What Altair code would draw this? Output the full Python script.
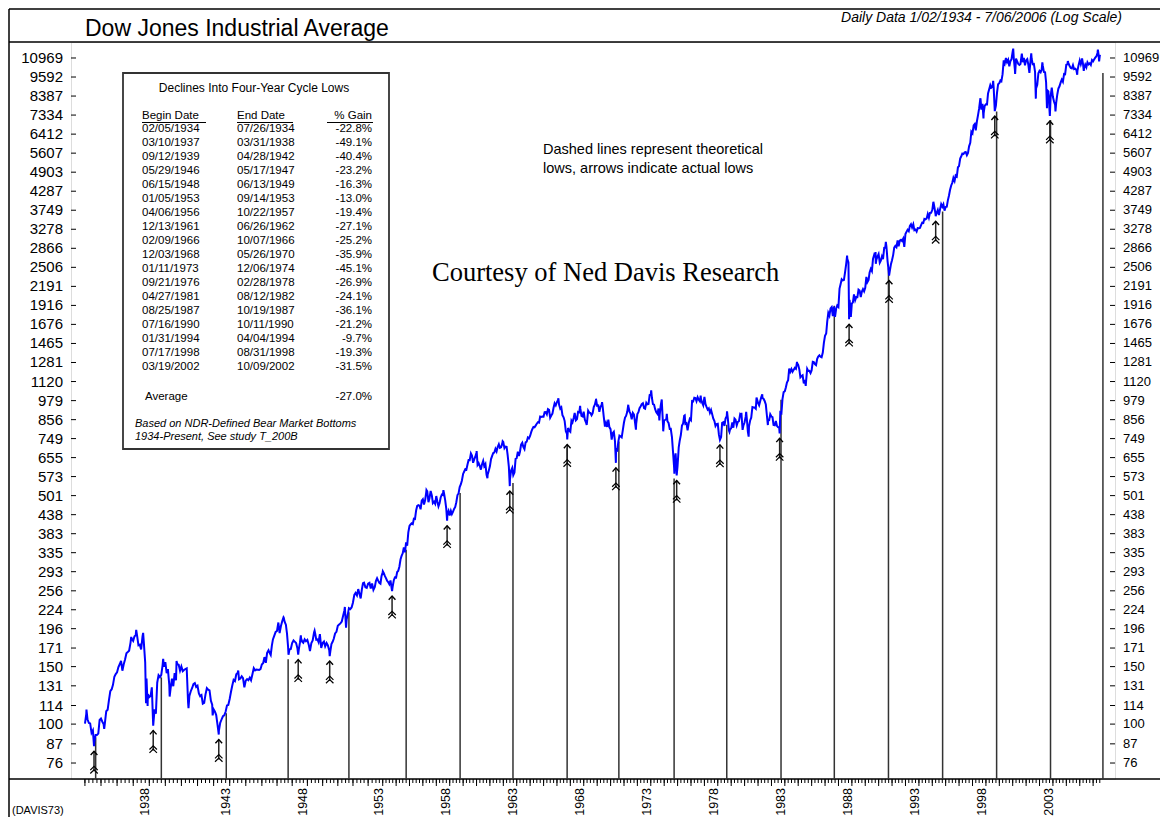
import altair as alt
import numpy as np
import pandas as pd

# ---------------------------------------------------------------- texts
TITLE = "Dow Jones Industrial Average"
SUBTITLE = "Daily Data 1/02/1934 - 7/06/2006 (Log Scale)"
NOTE_LINES = ["Dashed lines represent theoretical", "lows, arrows indicate actual lows"]
COURTESY = "Courtesy of Ned Davis Research"
SOURCE_CODE = "(DAVIS73)"

# ---------------------------------------------------------------- axis ticks
Y_TICKS = [76, 87, 100, 114, 131, 150, 171, 196, 224, 256, 293, 335, 383, 438,
           501, 573, 655, 749, 856, 979, 1120, 1281, 1465, 1676, 1916, 2191,
           2506, 2866, 3278, 3749, 4287, 4903, 5607, 6412, 7334, 8387, 9592, 10969]
X_LABEL_YEARS = [1938, 1943, 1948, 1953, 1958, 1963, 1968, 1973, 1978, 1983,
                 1988, 1993, 1998, 2003]

# ---------------------------------------------------------------- DJIA month-end closes
djia_1930s = [
    107.2, 103.5, 100.8, 100.5, 94.0, 95.7, 88.0, 92.6, 92.6, 93.5, 103.0, 104.0,
    101.7, 100.1, 100.8, 109.5, 110.6, 118.2, 126.2, 127.9, 131.9, 139.7, 142.3, 144.1,
    149.5, 152.5, 156.3, 145.7, 152.6, 157.7, 164.9, 166.3, 167.8, 177.4, 182.5, 179.9,
    185.7, 187.2, 186.4, 174.3, 175.1, 169.3, 185.5, 177.4, 154.6, 138.0, 123.5, 121.0,
    121.9, 129.6, 99.0, 111.0, 107.7, 133.9, 141.2, 139.3, 141.5, 151.7, 149.8, 154.8,
    143.3, 147.3, 131.8, 128.4, 137.7, 130.6, 143.3, 136.2, 152.5, 151.9, 145.7, 150.2,
]
djia_1940s = [
    145.3, 146.5, 147.5, 148.2, 116.2, 121.9, 126.1, 129.0, 132.6, 133.6, 130.0, 131.1,
    124.1, 121.8, 122.7, 115.5, 116.2, 123.1, 128.8, 127.4, 126.8, 117.8, 114.7, 111.0,
    109.1, 106.6, 99.5, 95.4, 100.9, 103.3, 105.7, 106.3, 109.1, 114.1, 114.5, 119.4,
    125.6, 131.0, 136.6, 135.5, 142.1, 143.4, 137.2, 138.0, 140.1, 138.3, 129.6, 135.9,
    137.4, 136.3, 138.8, 136.2, 142.2, 148.4, 146.1, 146.9, 146.7, 146.5, 147.3, 152.3,
    153.8, 160.4, 154.1, 165.4, 168.3, 165.3, 162.9, 174.3, 181.7, 186.6, 191.5, 192.9,
    204.7, 190.1, 199.8, 206.8, 212.3, 205.6, 201.6, 189.2, 172.4, 169.2, 169.8, 177.2,
    180.4, 178.9, 177.2, 170.6, 169.3, 177.3, 183.2, 178.9, 177.5, 181.8, 179.4, 181.2,
    175.1, 167.3, 177.2, 180.5, 190.7, 189.5, 181.3, 181.7, 178.3, 188.6, 171.2, 177.3,
    179.1, 173.1, 177.1, 174.2, 168.4, 167.4, 175.9, 178.7, 182.5, 189.5, 191.6, 200.1,
]
djia_1950s = [
    201.8, 203.4, 206.1, 214.3, 223.4, 209.1, 209.4, 216.9, 226.4, 225.0, 227.6, 235.4,
    248.8, 252.1, 247.9, 259.1, 249.7, 242.6, 257.9, 270.3, 271.2, 262.4, 261.3, 269.2,
    270.7, 260.1, 269.5, 257.6, 262.9, 274.3, 279.6, 275.0, 271.0, 269.2, 283.7, 291.9,
    290.0, 284.3, 279.9, 274.8, 272.3, 268.3, 275.4, 261.2, 264.0, 276.0, 281.4, 280.9,
    292.4, 294.5, 303.5, 319.3, 327.5, 333.5, 347.9, 335.8, 360.5, 352.1, 386.8, 404.4,
    408.8, 411.9, 409.7, 425.7, 424.9, 451.4, 465.9, 468.2, 466.6, 454.9, 483.3, 488.4,
    470.7, 483.7, 511.8, 516.1, 478.1, 492.8, 517.8, 502.0, 475.3, 479.9, 472.8, 499.5,
    479.2, 464.6, 474.8, 494.4, 505.0, 503.3, 508.5, 484.4, 456.3, 441.0, 449.9, 435.7,
    450.0, 439.9, 446.8, 455.9, 462.7, 478.2, 503.0, 508.6, 532.1, 543.2, 557.5, 583.7,
    594.0, 603.5, 601.7, 623.8, 643.8, 643.6, 674.9, 664.4, 631.7, 646.6, 659.2, 679.4,
]
djia_1960s = [
    622.6, 630.1, 616.6, 601.7, 625.5, 640.6, 616.7, 626.0, 580.1, 580.4, 597.2, 615.9,
    648.2, 662.1, 676.6, 678.7, 696.7, 684.0, 705.4, 719.9, 701.2, 703.9, 721.6, 731.1,
    700.0, 708.1, 707.0, 665.3, 613.4, 561.3, 597.9, 609.2, 579.0, 589.8, 649.3, 652.1,
    682.9, 662.9, 682.5, 717.7, 727.0, 706.9, 695.4, 729.3, 732.8, 755.2, 750.5, 763.0,
    785.3, 800.1, 813.3, 810.8, 820.6, 831.5, 841.1, 838.5, 875.4, 873.1, 875.4, 874.1,
    902.9, 903.5, 889.1, 922.3, 918.0, 868.0, 881.7, 893.1, 930.6, 960.8, 946.7, 969.3,
    983.5, 951.9, 924.8, 933.7, 884.1, 870.1, 847.4, 788.4, 774.2, 807.1, 791.6, 785.7,
    849.9, 839.4, 866.0, 897.1, 852.6, 860.3, 904.2, 901.3, 926.7, 879.7, 875.8, 905.1,
    855.5, 840.5, 840.7, 912.2, 899.0, 897.8, 883.0, 896.0, 935.8, 952.4, 985.1, 943.8,
    946.1, 905.2, 935.5, 950.2, 937.6, 873.2, 815.5, 836.7, 813.1, 856.0, 812.3, 800.4,
]
djia_1970s = [
    744.1, 777.6, 785.6, 736.1, 700.4, 683.5, 734.1, 764.6, 760.7, 755.6, 794.1, 838.9,
    868.5, 878.8, 904.4, 941.8, 907.8, 891.1, 858.4, 898.1, 887.2, 839.0, 831.3, 890.2,
    902.2, 928.1, 940.7, 954.2, 960.7, 929.0, 924.7, 963.7, 953.3, 955.5, 1018.2, 1020.0,
    999.0, 955.1, 951.0, 921.4, 901.4, 891.7, 926.4, 887.6, 947.1, 956.6, 822.3, 850.9,
    855.6, 860.5, 846.7, 836.8, 802.2, 802.4, 757.4, 678.6, 607.9, 665.5, 618.7, 616.2,
    703.7, 739.1, 768.2, 821.3, 832.3, 879.0, 831.5, 835.3, 793.9, 836.0, 860.7, 852.4,
    975.3, 972.6, 999.5, 996.9, 975.2, 1002.8, 984.6, 973.7, 990.2, 964.9, 947.2, 1004.7,
    954.4, 936.4, 919.1, 926.9, 898.7, 916.3, 890.1, 861.5, 847.1, 818.4, 829.7, 831.2,
    769.9, 742.1, 757.4, 837.3, 840.6, 819.0, 862.3, 876.8, 865.8, 792.5, 799.0, 805.0,
    839.2, 808.8, 862.2, 854.9, 822.3, 842.0, 846.4, 887.6, 878.6, 815.7, 822.4, 838.7,
]
djia_1980s = [
    875.9, 863.1, 785.8, 817.1, 850.9, 867.9, 935.3, 932.6, 932.4, 924.5, 993.3, 964.0,
    947.3, 974.6, 1003.9, 997.8, 991.8, 976.9, 952.3, 881.5, 850.0, 852.6, 889.0, 875.0,
    871.1, 824.4, 822.8, 848.4, 819.5, 811.9, 808.6, 901.3, 896.3, 991.7, 1039.3, 1046.5,
    1075.7, 1112.6, 1130.0, 1226.2, 1200.0, 1222.0, 1199.2, 1216.2, 1233.1, 1225.2, 1276.0, 1258.6,
    1220.6, 1154.6, 1164.9, 1170.8, 1104.9, 1132.4, 1115.3, 1224.4, 1206.7, 1207.4, 1188.9, 1211.6,
    1286.8, 1284.0, 1266.8, 1258.1, 1315.4, 1335.5, 1347.5, 1334.0, 1328.6, 1374.3, 1472.1, 1546.7,
    1571.0, 1709.1, 1818.6, 1784.0, 1876.7, 1892.7, 1775.3, 1898.3, 1767.6, 1877.8, 1914.2, 1896.0,
    2158.0, 2224.0, 2304.7, 2286.4, 2291.6, 2418.5, 2572.1, 2663.0, 2596.3, 1993.5, 1833.6, 1938.8,
    1958.2, 2071.6, 1988.1, 2032.3, 2031.1, 2141.7, 2128.7, 2031.7, 2112.9, 2148.7, 2114.5, 2168.6,
    2342.3, 2258.4, 2293.6, 2418.8, 2480.2, 2440.1, 2660.7, 2737.3, 2692.8, 2645.1, 2706.3, 2753.2,
]
djia_1990s = [
    2590.5, 2627.3, 2707.2, 2656.8, 2876.7, 2880.7, 2905.2, 2614.4, 2452.5, 2442.3, 2559.7, 2633.7,
    2736.4, 2882.2, 2913.9, 2887.9, 3027.5, 2906.8, 3024.8, 3043.6, 3016.8, 3069.1, 2894.7, 3168.8,
    3223.4, 3267.7, 3235.5, 3359.1, 3396.9, 3318.5, 3393.8, 3257.4, 3271.7, 3226.3, 3305.2, 3301.1,
    3310.0, 3370.8, 3435.1, 3427.6, 3527.4, 3516.1, 3539.5, 3651.3, 3555.1, 3680.6, 3684.0, 3754.1,
    3978.4, 3832.0, 3636.0, 3681.7, 3758.4, 3625.0, 3764.5, 3913.4, 3843.2, 3908.1, 3739.2, 3834.4,
    3843.9, 4011.1, 4157.7, 4321.3, 4465.1, 4556.1, 4708.5, 4610.6, 4789.1, 4755.5, 5074.5, 5117.1,
    5395.3, 5485.6, 5587.1, 5569.1, 5643.2, 5654.6, 5528.9, 5616.2, 5882.2, 6029.4, 6521.7, 6448.3,
    6813.1, 6877.7, 6583.5, 7009.0, 7331.0, 7672.8, 8222.6, 7622.4, 7945.3, 7442.1, 7823.1, 7908.3,
    7906.5, 8545.7, 8799.8, 9063.4, 8900.0, 8952.0, 8883.3, 7539.1, 7842.6, 8592.1, 9116.6, 9181.4,
    9358.8, 9306.6, 9786.2, 10789.0, 10559.7, 10970.8, 10655.2, 10829.3, 10337.0, 10729.9, 10877.8, 11497.1,
]
djia_2000s = [
    10940.5, 10128.3, 10921.9, 10733.9, 10522.3, 10447.9, 10522.0, 11215.1, 10650.9, 10971.1, 10414.5, 10788.0,
    10887.4, 10495.3, 9878.8, 10735.0, 10911.9, 10502.4, 10522.8, 9949.8, 8847.6, 9075.1, 9851.6, 10021.5,
    9920.0, 10106.1, 10403.9, 9946.2, 9925.3, 9243.3, 8736.6, 8663.5, 7591.9, 8397.0, 8896.1, 8341.6,
    8053.8, 7891.1, 7992.1, 8480.1, 8850.3, 8985.4, 9233.8, 9415.8, 9275.1, 9801.1, 9782.5, 10453.9,
    10488.1, 10583.9, 10357.7, 10225.6, 10188.5, 10435.5, 10139.7, 10173.9, 10080.3, 10027.5, 10428.0, 10783.0,
    10489.9, 10766.2, 10503.8, 10192.5, 10467.5, 10275.0, 10640.9, 10481.6, 10568.7, 10440.1, 10805.9, 10717.5,
    10864.9, 10993.4, 11109.3, 11367.1, 11168.3, 11150.2,
]

# intra-month turning points
ext_dates = [
    "1934-01-02", "1934-02-05", "1934-07-26", "1935-03-14", "1936-11-17", "1937-03-10",
    "1937-08-14", "1937-10-19", "1937-11-24", "1938-03-31", "1938-11-12", "1939-04-08",
    "1939-09-12", "1940-06-10", "1941-12-10", "1942-04-28", "1943-07-14", "1946-05-29",
    "1946-10-09", "1947-05-17", "1947-07-24", "1948-06-15", "1949-06-13", "1950-06-12",
    "1950-07-13", "1953-01-05", "1953-09-14", "1956-04-06", "1957-07-12", "1957-10-22",
    "1960-01-05", "1960-10-25", "1961-12-13", "1962-06-26", "1966-02-09", "1966-10-07",
    "1967-09-25", "1968-03-21", "1968-12-03", "1969-05-14", "1970-05-26", "1971-04-28",
    "1971-11-23", "1973-01-11", "1973-08-22", "1973-10-26", "1973-12-05", "1974-03-13",
    "1974-10-04", "1974-11-07", "1974-12-06", "1975-07-15", "1976-09-21", "1978-02-28",
    "1978-09-08", "1978-11-14", "1979-10-05", "1979-11-07", "1980-02-13", "1980-04-21",
    "1980-11-20", "1981-04-27", "1981-09-25", "1982-08-12", "1983-11-29", "1984-07-24",
    "1987-08-25", "1987-10-19", "1987-12-04", "1989-10-09", "1989-10-13", "1990-07-16",
    "1990-10-11", "1994-01-31", "1994-04-04", "1997-08-06", "1997-10-27", "1998-07-17",
    "1998-08-31", "2000-01-14", "2000-03-07", "2000-09-06", "2001-05-21", "2001-09-21",
    "2002-03-19", "2002-07-23", "2002-10-09", "2003-03-11", "2004-02-11", "2004-10-25",
    "2005-03-04", "2005-04-20", "2006-05-10", "2006-06-13", "2006-07-06",
]
ext_values = [
    100.36, 110.74, 85.51, 96.71, 184.90, 194.40,
    190.38, 115.84, 113.64, 98.95, 158.41, 121.44,
    155.92, 111.84, 106.34, 92.92, 145.82, 212.50,
    163.12, 163.21, 186.85, 193.16, 161.60, 228.38,
    197.46, 293.79, 255.49, 521.05, 520.77, 419.79,
    685.47, 566.05, 734.91, 535.76, 995.15, 744.32,
    943.08, 825.13, 985.21, 968.85, 631.16, 950.82,
    797.97, 1051.70, 851.90, 987.06, 788.31, 891.66,
    584.56, 674.75, 577.60, 881.81, 1014.79, 742.12,
    907.74, 785.26, 897.61, 796.67, 903.84, 759.13,
    1000.17, 1024.05, 824.01, 776.92, 1287.20, 1086.57,
    2722.42, 1738.74, 1766.74, 2791.41, 2569.26, 2999.75,
    2365.10, 3978.36, 3593.35, 8259.31, 7161.15, 9337.97,
    7539.07, 11722.98, 9796.03, 11310.64, 11337.92, 8235.81,
    10635.25, 7702.34, 7286.27, 7524.06, 10737.70, 9749.99,
    10940.55, 10012.36, 11642.65, 10706.14, 11225.28,
]

# ---------------------------------------------------------------- table
TABLE_TITLE = "Declines Into Four-Year Cycle Lows"
COL_HEADERS = ["Begin Date", "End Date", "% Gain"]
begin_dates = ["02/05/1934", "03/10/1937", "09/12/1939", "05/29/1946", "06/15/1948",
               "01/05/1953", "04/06/1956", "12/13/1961", "02/09/1966", "12/03/1968",
               "01/11/1973", "09/21/1976", "04/27/1981", "08/25/1987", "07/16/1990",
               "01/31/1994", "07/17/1998", "03/19/2002"]
end_dates = ["07/26/1934", "03/31/1938", "04/28/1942", "05/17/1947", "06/13/1949",
             "09/14/1953", "10/22/1957", "06/26/1962", "10/07/1966", "05/26/1970",
             "12/06/1974", "02/28/1978", "08/12/1982", "10/19/1987", "10/11/1990",
             "04/04/1994", "08/31/1998", "10/09/2002"]
pct_gain = ["-22.8%", "-49.1%", "-40.4%", "-23.2%", "-16.3%", "-13.0%", "-19.4%",
            "-27.1%", "-25.2%", "-35.9%", "-45.1%", "-26.9%", "-24.1%", "-36.1%",
            "-21.2%", "-9.7%", "-19.3%", "-31.5%"]
AVERAGE_LABEL = "Average"
AVERAGE_VALUE = "-27.0%"
FOOTNOTE = ["Based on NDR-Defined Bear Market Bottoms", "1934-Present, See study T_200B"]

# actual lows (arrows) : values at the end dates
low_values = [85.51, 98.95, 92.92, 163.21, 161.60, 255.49, 419.79, 535.76, 744.32,
              631.16, 577.60, 742.12, 776.92, 1738.74, 2365.10, 3593.35, 7539.07, 7286.27]

# theoretical four-year cycle lows (vertical lines) and the level each line reaches
theo_dates = ["1934-09-01", "1938-10-01", "1942-10-15", "1946-10-01", "1950-10-01",
              "1954-10-01", "1958-10-10", "1962-09-20", "1966-10-05", "1970-08-15",
              "1974-09-28", "1978-09-01", "1982-09-20", "1986-09-10", "1990-09-25",
              "1994-10-10", "1998-10-20", "2002-10-28", "2006-09-25"]
theo_tops = [91, 139, 108, 158, 220, 342, 510, 548, 703, 734, 565, 826, 985, 1911,
             2492, 3713, 7518, 7086, 9870]

# ---------------------------------------------------------------- trading-session axis
cal = pd.date_range("1934-01-01", "2006-12-31", freq="D")
dow = np.asarray(cal.dayofweek)
months = np.asarray(cal.month)
cal_np = cal.values
sat_ok = (dow == 5) & (cal_np < np.datetime64("1952-06-01")) & ~(
    (cal_np >= np.datetime64("1945-06-01")) & np.isin(months, [6, 7, 8, 9]))
trading = (dow < 5) | sat_ok
cum = np.cumsum(trading.astype(int))
sess = pd.Series(cum, index=cal)
sess = sess - sess[pd.Timestamp("1934-01-02")]


def to_idx(dates):
    return sess.reindex(pd.to_datetime(pd.Series(dates))).values.astype(float)


monthly_vals = djia_1930s + djia_1940s + djia_1950s + djia_1960s + djia_1970s + \
    djia_1980s + djia_1990s + djia_2000s
monthly_dates = []
for yy in range(1934, 2007):
    for mm in range(1, 13):
        monthly_dates.append(pd.Timestamp(yy, mm, 1) + pd.offsets.MonthEnd(0))
monthly_dates = monthly_dates[:len(monthly_vals)]

price = pd.concat([
    pd.DataFrame({"date": pd.to_datetime(ext_dates), "value": ext_values}),
    pd.DataFrame({"date": monthly_dates, "value": monthly_vals}),
]).drop_duplicates("date", keep="first").sort_values("date")
price = price[price["date"] <= pd.Timestamp("2006-07-06")].copy()
price["idx"] = to_idx(price["date"])

end_iso = [pd.to_datetime(d, format="%m/%d/%Y") for d in end_dates]
arrows = pd.DataFrame({"idx": to_idx(end_iso), "low": low_values})
theo = pd.DataFrame({"idx": to_idx(theo_dates), "top": theo_tops})

quarters = pd.date_range("1934-01-01", "2006-07-01", freq="QS")
qticks = pd.DataFrame({"idx": to_idx(quarters)})
yticks_x = pd.DataFrame({"idx": to_idx([pd.Timestamp(y, 1, 1) for y in range(1934, 2007)])})
xlabels = pd.DataFrame({"idx": to_idx([pd.Timestamp(y, 1, 1) for y in X_LABEL_YEARS]),
                        "label": [str(y) for y in X_LABEL_YEARS]})
ylabels = pd.DataFrame({"value": Y_TICKS, "label": [str(v) for v in Y_TICKS]})

rows = pd.DataFrame({"b": begin_dates, "e": end_dates, "g": pct_gain})
rows["i"] = np.arange(len(rows))

# ---------------------------------------------------------------- layout
W, H = 1044, 737
FONT = "Liberation Sans"
last_idx = float(price["idx"].max())
xs = alt.Scale(domain=[-272, last_idx + 292], nice=False, zero=False)
ys = alt.Scale(type="log", domain=[67.9, 12279], nice=False)


def X():
    return alt.X("idx:Q", scale=xs, axis=None)


def Y(f):
    return alt.Y(f"{f}:Q", scale=ys, axis=None)


def rule(**enc):
    return alt.Chart().mark_rule(color="black", strokeWidth=1.5).encode(
        **{k: alt.value(v) for k, v in enc.items()})


def label(text, x, y, size=11.5, align="left", font=FONT, style="normal", baseline="middle"):
    return alt.Chart(pd.DataFrame({"t": [text]})).mark_text(
        align=align, baseline=baseline, fontSize=size, font=font, fontStyle=style,
        color="black").encode(x=alt.value(x), y=alt.value(y), text="t:N")


layers = []

# frame lines
layers += [
    rule(x=-62, x2=W + 45, y=-33),
    rule(x=-62, x2=W + 45, y=0),
    rule(x=-62, x2=W + 45, y=H),
    rule(x=-62, y=-33, y2=H + 38),
]

# x ticks (quarterly, longer on years)
layers.append(alt.Chart(qticks).mark_rule(color="black", strokeWidth=1).encode(
    x=X(), y=alt.value(H), y2=alt.value(H + 4)))
layers.append(alt.Chart(yticks_x).mark_rule(color="black", strokeWidth=1).encode(
    x=X(), y=alt.value(H), y2=alt.value(H + 7)))
# inward y ticks
layers.append(alt.Chart(ylabels).mark_rule(color="black", strokeWidth=1).encode(
    y=Y("value"), x=alt.value(0), x2=alt.value(5)))
layers.append(alt.Chart(ylabels).mark_rule(color="black", strokeWidth=1).encode(
    y=Y("value"), x=alt.value(W - 5), x2=alt.value(W)))
# tick labels
layers.append(alt.Chart(ylabels).mark_text(align="right", baseline="middle", fontSize=15,
                                           font=FONT, color="black").encode(
    y=Y("value"), x=alt.value(-8), text="label:N"))
layers.append(alt.Chart(ylabels).mark_text(align="left", baseline="middle", fontSize=13,
                                           font=FONT, color="black").encode(
    y=Y("value"), x=alt.value(W + 8), text="label:N"))
layers.append(alt.Chart(xlabels).mark_text(angle=270, align="right", baseline="alphabetic",
                                           fontSize=12.5, font=FONT, color="black").encode(
    x=X(), y=alt.value(H + 9), text="label:N"))

# theoretical lows
layers.append(alt.Chart(theo).mark_rule(color="#333333", strokeWidth=1.5).encode(
    x=X(), y=Y("top"), y2=alt.value(H)))

# price
layers.append(alt.Chart(price).mark_line(color="#0000FF", strokeWidth=2.0).encode(
    x=X(), y=Y("value")))

# arrows at actual lows
HEAD = "M-0.9,1L0,0L0.9,1"
TAIL = "M-1,0.5L0,-0.5L1,0.5M-1,1.4L0,0.4L1,1.4"
layers.append(alt.Chart(arrows).mark_rule(color="#222222", strokeWidth=1.5, yOffset=5,
                                          y2Offset=25).encode(
    x=X(), y=Y("low"), y2=alt.Y2("low:Q")))
layers.append(alt.Chart(arrows).mark_point(shape=HEAD, size=56, filled=False, color="black",
                                           strokeWidth=1.4, opacity=1, yOffset=5).encode(
    x=X(), y=Y("low")))
layers.append(alt.Chart(arrows).mark_point(shape=TAIL, size=56, filled=False, color="black",
                                           strokeWidth=1.2, opacity=1, yOffset=22).encode(
    x=X(), y=Y("low")))

# titles and notes
layers.append(label(TITLE, 14, -13, size=23))
layers.append(label(SUBTITLE, 1051, -24.5, size=14, align="right", style="italic"))
layers.append(alt.Chart(pd.DataFrame({"t": [NOTE_LINES]})).mark_text(
    align="left", baseline="middle", fontSize=14.5, font=FONT, lineHeight=19,
    color="black").encode(x=alt.value(472), y=alt.value(108), text="t"))
layers.append(label(COURTESY, 361, 231, size=26.5, font="Liberation Serif"))
layers.append(label(SOURCE_CODE, -59, H + 35, size=11, baseline="alphabetic"))

# table box
layers.append(alt.Chart().mark_rect(fill="white", stroke="#333333", strokeWidth=1.8).encode(
    x=alt.value(52), x2=alt.value(318), y=alt.value(31), y2=alt.value(407)))
layers.append(label(TABLE_TITLE, 183, 46, size=12, align="center"))
layers.append(label(COL_HEADERS[0], 71, 74))
layers.append(label(COL_HEADERS[1], 166, 74))
layers.append(label(COL_HEADERS[2], 301, 74, align="right"))
for xa, xb in [(71, 135), (166, 222), (256, 302)]:
    layers.append(alt.Chart().mark_rule(color="black", strokeWidth=1).encode(
        x=alt.value(xa), x2=alt.value(xb), y=alt.value(80.5)))
row_y = alt.Y("ry:Q", scale=None, axis=None)
base_rows = alt.Chart(rows).transform_calculate(ry="87 + 14 * datum.i")
layers.append(base_rows.mark_text(align="left", baseline="middle", fontSize=11.5, font=FONT,
                                  color="black").encode(x=alt.value(71), y=row_y, text="b:N"))
layers.append(base_rows.mark_text(align="left", baseline="middle", fontSize=11.5, font=FONT,
                                  color="black").encode(x=alt.value(166), y=row_y, text="e:N"))
layers.append(base_rows.mark_text(align="right", baseline="middle", fontSize=11.5, font=FONT,
                                  color="black").encode(x=alt.value(301), y=row_y, text="g:N"))
layers.append(label(AVERAGE_LABEL, 74, 355))
layers.append(label(AVERAGE_VALUE, 301, 355, align="right"))
layers.append(label(FOOTNOTE[0], 64, 382, size=11, style="italic"))
layers.append(label(FOOTNOTE[1], 64, 395, size=11, style="italic"))

chart = alt.layer(*layers).properties(
    width=W, height=H,
    padding={"left": 63, "top": 34, "right": 45, "bottom": 38},
    autosize=alt.AutoSizeParams(type="none"),
).configure_view(stroke="black", strokeWidth=1.5).configure(background="white")

chart.save("out.html", embed_options={"renderer": "svg", "actions": False})
